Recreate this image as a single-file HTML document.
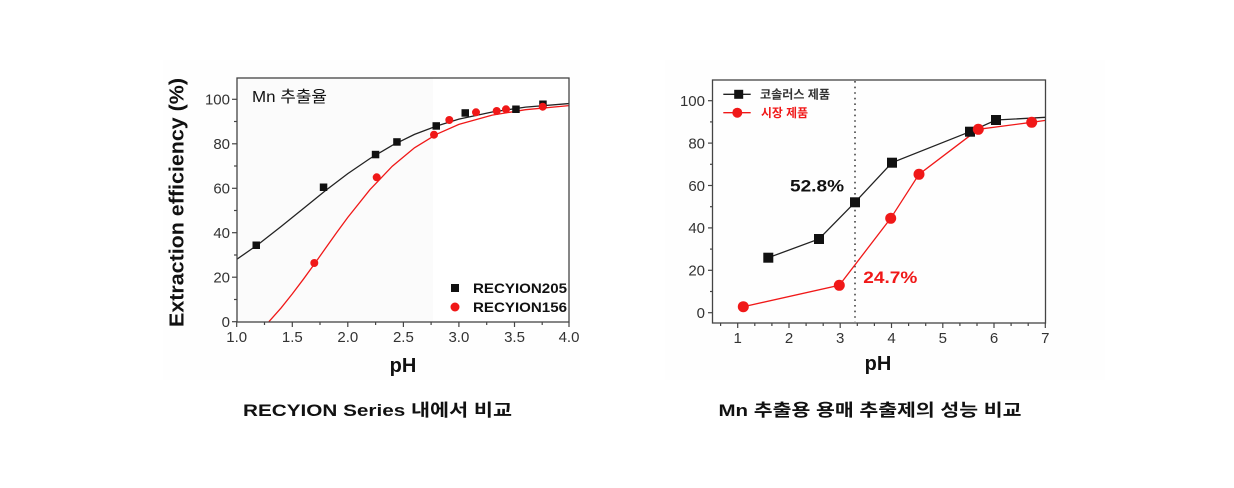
<!DOCTYPE html>
<html><head><meta charset="utf-8"><style>
html,body{margin:0;padding:0;background:#fff;}
svg{display:block;}
text{font-family:"Liberation Sans","Noto Sans CJK KR",sans-serif;}
</style></head><body>
<svg width="1234" height="488" viewBox="0 0 1234 488" xmlns="http://www.w3.org/2000/svg">
<rect width="1234" height="488" fill="#fff"/>
<!-- LEFT CHART -->
<rect x="163" y="60" width="417" height="320" fill="#fefefe"/>
<rect x="237" y="78" width="196" height="244" fill="#fbfbfb"/>
<rect x="433" y="78" width="136" height="244" fill="#ffffff"/>
<defs>
<clipPath id="cl"><rect x="237" y="78" width="332" height="244"/></clipPath>
<clipPath id="cr"><rect x="712.5" y="80" width="333" height="243"/></clipPath>
</defs>
<g clip-path="url(#cl)" fill="none" stroke-width="1.3">
<polyline stroke="#222" points="236.7,259.4 258.9,243.9 281.1,226.5 303.4,208.5 325.6,190.5 347.8,173.6 370,158.5 392.3,145.3 414.5,134.4 436.7,126 458.9,119.1 492.2,112 525.6,107.1 570,103.5"/>
<polyline stroke="#f01818" points="268.9,321.7 281.1,307.9 292.3,293.9 303.4,279.2 314.5,263.9 325.6,248.1 336.7,232.5 347.8,217.4 370,189.6 392.3,166.2 414.5,147.8 436.7,134.2 458.9,124.4 492.2,115.1 525.6,109.7 570,105.5"/>
</g>
<g fill="#111">
<rect x="252.5" y="241.5" width="7.5" height="7.5"/>
<rect x="319.8" y="183.5" width="7.5" height="7.5"/>
<rect x="371.8" y="150.8" width="7.5" height="7.5"/>
<rect x="393.2" y="138.2" width="7.5" height="7.5"/>
<rect x="432.5" y="122.2" width="7.5" height="7.5"/>
<rect x="461.5" y="109.2" width="7.5" height="7.5"/>
<rect x="512.2" y="105.5" width="7.5" height="7.5"/>
<rect x="539.2" y="100.5" width="7.5" height="7.5"/>
</g>
<g fill="#f01818">
<circle cx="314.3" cy="263" r="4"/>
<circle cx="376.7" cy="177.3" r="4"/>
<circle cx="434" cy="134.7" r="4"/>
<circle cx="449.3" cy="120" r="4"/>
<circle cx="476" cy="112.3" r="4"/>
<circle cx="496.7" cy="111" r="4"/>
<circle cx="506" cy="109.3" r="4"/>
<circle cx="542.7" cy="106.7" r="4"/>
</g>
<!-- frame -->
<rect x="237" y="78" width="332" height="244" fill="none" stroke="#444" stroke-width="1.3"/>
<g stroke="#444" stroke-width="1.2">
<line x1="232" y1="321.7" x2="237" y2="321.7"/><line x1="234" y1="299.5" x2="237" y2="299.5"/>
<line x1="232" y1="277.2" x2="237" y2="277.2"/><line x1="234" y1="255" x2="237" y2="255"/>
<line x1="232" y1="232.7" x2="237" y2="232.7"/><line x1="234" y1="210.5" x2="237" y2="210.5"/>
<line x1="232" y1="188.3" x2="237" y2="188.3"/><line x1="234" y1="166" x2="237" y2="166"/>
<line x1="232" y1="143.8" x2="237" y2="143.8"/><line x1="234" y1="121.5" x2="237" y2="121.5"/>
<line x1="232" y1="99.3" x2="237" y2="99.3"/>
<line x1="236.7" y1="322" x2="236.7" y2="327"/><line x1="264.5" y1="322" x2="264.5" y2="325"/>
<line x1="292.3" y1="322" x2="292.3" y2="327"/><line x1="320" y1="322" x2="320" y2="325"/>
<line x1="347.8" y1="322" x2="347.8" y2="327"/><line x1="375.6" y1="322" x2="375.6" y2="325"/>
<line x1="403.4" y1="322" x2="403.4" y2="327"/><line x1="431.1" y1="322" x2="431.1" y2="325"/>
<line x1="458.9" y1="322" x2="458.9" y2="327"/><line x1="486.7" y1="322" x2="486.7" y2="325"/>
<line x1="514.5" y1="322" x2="514.5" y2="327"/><line x1="542.2" y1="322" x2="542.2" y2="325"/>
<line x1="569" y1="322" x2="569" y2="327"/>
</g>
<g font-size="15" fill="#333" text-anchor="end">
<text x="230" y="327">0</text><text x="230" y="282.5">20</text><text x="230" y="238">40</text>
<text x="230" y="193.6">60</text><text x="230" y="149.1">80</text><text x="230" y="104.6">100</text>
</g>
<g font-size="15" fill="#333" text-anchor="middle">
<text x="236.7" y="342">1.0</text><text x="292.3" y="342">1.5</text><text x="347.8" y="342">2.0</text>
<text x="403.4" y="342">2.5</text><text x="458.9" y="342">3.0</text><text x="514.5" y="342">3.5</text>
<text x="569" y="342">4.0</text>
</g>
<text x="403" y="372" font-size="20" font-weight="bold" fill="#111" text-anchor="middle">pH</text>
<text transform="translate(183.5,202.5) rotate(-90)" font-size="20" font-weight="bold" fill="#111" text-anchor="middle" textLength="249" lengthAdjust="spacingAndGlyphs">Extraction efficiency (%)</text>
<text x="252" y="102" font-size="16" fill="#111" textLength="75" lengthAdjust="spacingAndGlyphs">Mn 추출율</text>
<rect x="451" y="284" width="8" height="8" fill="#111"/>
<text x="473" y="293" font-size="14" font-weight="bold" fill="#111" textLength="94" lengthAdjust="spacingAndGlyphs">RECYION205</text>
<circle cx="455" cy="307" r="4.5" fill="#f01818"/>
<text x="473" y="312" font-size="14" font-weight="bold" fill="#111" textLength="94" lengthAdjust="spacingAndGlyphs">RECYION156</text>

<!-- RIGHT CHART -->
<rect x="665" y="60" width="440" height="320" fill="#fefefe"/>
<rect x="712.5" y="80" width="333" height="243" fill="#fefefe"/>
<line x1="855" y1="81" x2="855" y2="322" stroke="#444" stroke-width="1.6" stroke-dasharray="1.6,4"/>
<g clip-path="url(#cr)" fill="none" stroke-width="1.3">
<polyline stroke="#222" points="768.3,257.7 819,239 855,202.3 892,162.7 970,131.7 996,120 1046,117.3"/>
<polyline stroke="#f01818" points="743.3,306.7 839.3,285.3 890.7,218.3 919,174.3 978.3,129.3 1031.7,122.3 1046,120.3"/>
</g>
<g fill="#111">
<rect x="763.3" y="252.7" width="10" height="10"/>
<rect x="814" y="234" width="10" height="10"/>
<rect x="850" y="197.3" width="10" height="10"/>
<rect x="887" y="157.7" width="10" height="10"/>
<rect x="965" y="126.7" width="10" height="10"/>
<rect x="991" y="115" width="10" height="10"/>
</g>
<g fill="#f01818">
<circle cx="743.3" cy="306.7" r="5.5"/>
<circle cx="839.3" cy="285.3" r="5.5"/>
<circle cx="890.7" cy="218.3" r="5.5"/>
<circle cx="919" cy="174.3" r="5.5"/>
<circle cx="978.3" cy="129.3" r="5.5"/>
<circle cx="1031.7" cy="122.3" r="5.5"/>
</g>
<rect x="712.5" y="80" width="333" height="243" fill="none" stroke="#444" stroke-width="1.3"/>
<g stroke="#444" stroke-width="1.2">
<line x1="708" y1="312.7" x2="712.5" y2="312.7"/><line x1="710" y1="291.5" x2="712.5" y2="291.5"/>
<line x1="708" y1="270.3" x2="712.5" y2="270.3"/><line x1="710" y1="249.1" x2="712.5" y2="249.1"/>
<line x1="708" y1="227.9" x2="712.5" y2="227.9"/><line x1="710" y1="206.7" x2="712.5" y2="206.7"/>
<line x1="708" y1="185.5" x2="712.5" y2="185.5"/><line x1="710" y1="164.3" x2="712.5" y2="164.3"/>
<line x1="708" y1="143.1" x2="712.5" y2="143.1"/><line x1="710" y1="121.9" x2="712.5" y2="121.9"/>
<line x1="708" y1="100.7" x2="712.5" y2="100.7"/>
<line x1="720.6" y1="323" x2="720.6" y2="326"/>
<line x1="737.7" y1="323" x2="737.7" y2="328"/><line x1="754.8" y1="323" x2="754.8" y2="326"/><line x1="771.9" y1="323" x2="771.9" y2="326"/>
<line x1="789" y1="323" x2="789" y2="328"/><line x1="806.1" y1="323" x2="806.1" y2="326"/><line x1="823.2" y1="323" x2="823.2" y2="326"/>
<line x1="840.2" y1="323" x2="840.2" y2="328"/><line x1="857.3" y1="323" x2="857.3" y2="326"/><line x1="874.4" y1="323" x2="874.4" y2="326"/>
<line x1="891.5" y1="323" x2="891.5" y2="328"/><line x1="908.6" y1="323" x2="908.6" y2="326"/><line x1="925.7" y1="323" x2="925.7" y2="326"/>
<line x1="942.8" y1="323" x2="942.8" y2="328"/><line x1="959.9" y1="323" x2="959.9" y2="326"/><line x1="977" y1="323" x2="977" y2="326"/>
<line x1="994" y1="323" x2="994" y2="328"/><line x1="1011.1" y1="323" x2="1011.1" y2="326"/><line x1="1028.2" y1="323" x2="1028.2" y2="326"/>
<line x1="1045.3" y1="323" x2="1045.3" y2="328"/>
</g>
<g font-size="15" fill="#333" text-anchor="end">
<text x="705" y="318">0</text><text x="705" y="275.6">20</text><text x="705" y="233.2">40</text>
<text x="705" y="190.8">60</text><text x="705" y="148.4">80</text><text x="705" y="106">100</text>
</g>
<g font-size="15" fill="#333" text-anchor="middle">
<text x="737.7" y="343">1</text><text x="789" y="343">2</text><text x="840.2" y="343">3</text>
<text x="891.5" y="343">4</text><text x="942.8" y="343">5</text><text x="994" y="343">6</text>
<text x="1045.3" y="343">7</text>
</g>
<text x="878" y="370" font-size="20" font-weight="bold" fill="#111" text-anchor="middle">pH</text>
<line x1="723.3" y1="94.3" x2="750.7" y2="94.3" stroke="#222" stroke-width="1.3"/>
<rect x="734.2" y="89.8" width="9" height="9" fill="#111"/>
<text x="760" y="98.5" font-size="12" font-weight="bold" fill="#333" textLength="70" lengthAdjust="spacingAndGlyphs">코솔러스 제품</text>
<line x1="723.3" y1="112.7" x2="750.7" y2="112.7" stroke="#f01818" stroke-width="1.3"/>
<circle cx="737.3" cy="112.7" r="5" fill="#f01818"/>
<text x="761" y="117" font-size="12" font-weight="bold" fill="#f01818" textLength="47" lengthAdjust="spacingAndGlyphs">시장 제품</text>
<text x="790" y="191.5" font-size="17" font-weight="bold" fill="#111" textLength="54" lengthAdjust="spacingAndGlyphs">52.8%</text>
<text x="863.3" y="283" font-size="17" font-weight="bold" fill="#f01818" textLength="54" lengthAdjust="spacingAndGlyphs">24.7%</text>

<text x="377.5" y="416" font-size="17" font-weight="bold" fill="#111" text-anchor="middle" textLength="269" lengthAdjust="spacingAndGlyphs">RECYION Series 내에서 비교</text>
<text x="870" y="416" font-size="17" font-weight="bold" fill="#111" text-anchor="middle" textLength="303" lengthAdjust="spacingAndGlyphs">Mn 추출용 용매 추출제의 성능 비교</text>
</svg>
</body></html>
